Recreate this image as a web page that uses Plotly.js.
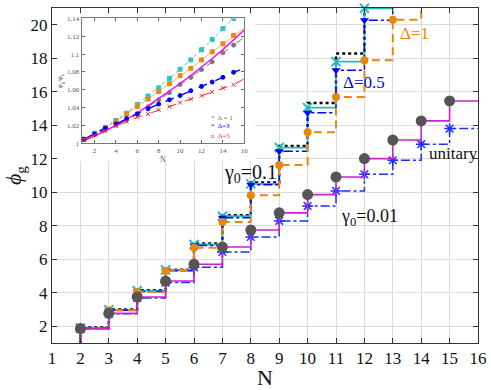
<!DOCTYPE html>
<html>
<head>
<meta charset="utf-8">
<script src="https://cdn.plot.ly/plotly-3.0.1.min.js"></script>
<style>
  html, body { margin: 0; padding: 0; background: #fff; }
  #chart { width: 491px; height: 390px; }
</style>
</head>
<body>
<div id="chart"></div>
<script>
// ---- main plot data (phi_g vs N) ----
// the N=1 start lies below the axis (only the rise at N=2 shows);
// last value of each upper curve lies above the axis range
const nUpper = [1, 2, 3, 4, 5, 6, 7, 8, 9, 10, 11, 12, 13, 14];
const blackDot = [0.5, 1.92, 3.00, 4.15, 5.38, 6.94, 8.63, 10.58, 12.76, 15.33, 18.28, 22.5];
const cyanX = [0.5, 1.90, 2.98, 4.12, 5.36, 6.88, 8.57, 10.50, 12.67, 15.05, 17.80, 20.98, 24.0];
const blueTri = [0.5, 1.88, 2.95, 4.08, 5.32, 6.82, 8.48, 10.45, 12.45, 14.75, 17.28, 20.27, 23.5];
const orangeCirc = [0.5, 1.85, 2.94, 4.05, 5.30, 6.68, 8.22, 9.82, 11.63, 13.58, 15.68, 17.88, 20.30, 23.0];

// lower group, gamma0 = 0.01
const nLower = [1, 2, 3, 4, 5, 6, 7, 8, 9, 10, 11, 12, 13, 14, 15, 16];
const unitaryGray = [0.5, 1.86, 2.77, 3.75, 4.70, 5.70, 6.73, 7.75, 8.77, 9.86, 10.91, 12.01, 13.12, 14.26, 15.45, 15.45];
const blueStar = [0.5, 1.85, 2.74, 3.69, 4.61, 5.52, 6.44, 7.33, 8.29, 9.18, 10.08, 11.07, 11.91, 12.87, 13.80, 13.80];

// ---- inset data (phi_g / phi_u vs N) ----
const insetN = [1, 2, 3, 4, 5, 6, 7, 8, 9, 10, 11, 12, 13, 14, 15, 16];
const insCyan = [1.0045, 1.0113, 1.0180, 1.0255, 1.0338, 1.0435, 1.0530, 1.0623, 1.0728, 1.0830, 1.0935, 1.1048, 1.1164, 1.1285, 1.1400, 1.1520];
const insOrange = [1.0045, 1.0110, 1.0170, 1.0248, 1.0327, 1.0412, 1.0496, 1.0580, 1.0668, 1.0758, 1.0840, 1.0935, 1.1025, 1.1115, 1.1210, 1.1290];
const insGray = [1.0045, 1.0100, 1.0150, 1.0205, 1.0262, 1.0330, 1.0409, 1.0488, 1.0567, 1.0660, 1.0739, 1.0826, 1.0913, 1.1014, 1.1100, 1.1190];
const insMagenta = [1.003, 1.008, 1.014, 1.020, 1.027, 1.034, 1.042, 1.050, 1.058, 1.067, 1.076, 1.085, 1.095, 1.105, 1.116, 1.127];
const insBlue = [1.0045, 1.0105, 1.0169, 1.0217, 1.0277, 1.0330, 1.0387, 1.0440, 1.0488, 1.0536, 1.0590, 1.0638, 1.0687, 1.0740, 1.0796, 1.0845];
const insRed = [1.0045, 1.0094, 1.0139, 1.0195, 1.0243, 1.0293, 1.0327, 1.0375, 1.0412, 1.0457, 1.0496, 1.0533, 1.0575, 1.0620, 1.0657, 1.0724];

const SERIF = "'Liberation Serif', 'Times New Roman', serif";

// marker sizes: hide the start point (and optionally the end point)
function sizes(arr, s, hideLast) {
    return arr.map((v, i) => (i === 0 || (hideLast && i === arr.length - 1)) ? 0 : s);
}

function stepTrace(xs, y, color, dash, width) {
    return {
        x: xs.slice(0, y.length),
        y: y,
        type: 'scatter',
        mode: 'lines',
        line: { color: color, dash: dash, width: width, shape: 'hv' },
        cliponaxis: false,
        hoverinfo: 'skip'
    };
}

// array sizes make plotly treat it as a bubble chart, so set opacity / outline explicitly
function withMarkers(t, marker, s, hideLast) {
    t.mode = 'lines+markers';
    t.marker = Object.assign({ opacity: 1, line: { width: 0 } }, marker, { size: sizes(t.y, s, hideLast) });
    return t;
}

const traces = [
    stepTrace(nUpper, blackDot, '#000000', 'dot', 2.5),
    withMarkers(stepTrace(nUpper, cyanX, '#22bcbc', 'solid', 1.8),
        { symbol: 'x-thin-open', color: '#22bcbc', line: { color: '#22bcbc', width: 2 } }, 9),
    withMarkers(stepTrace(nUpper, blueTri, '#0000ff', 'dashdot', 1.5),
        { symbol: 'triangle-down', color: '#0000ff' }, 8),
    withMarkers(stepTrace(nUpper, orangeCirc, '#e8870e', '8px,5px', 2),
        { symbol: 'circle', color: '#e8870e' }, 8),
    withMarkers(stepTrace(nLower, blueStar, '#1f2dff', 'dashdot', 1.5),
        { symbol: 'asterisk-open', color: '#1f2dff', line: { color: '#1f2dff', width: 1.5 } }, 9, true),
    withMarkers(stepTrace(nLower, unitaryGray, '#cc22cc', 'solid', 1.6),
        { symbol: 'circle', color: '#555555' }, 11, true),
    // empty subplot: white box behind the inset
    { x: [], y: [], xaxis: 'x2', yaxis: 'y2', type: 'scatter', mode: 'markers', hoverinfo: 'skip' }
];

function insetTrace(y, color, dash, width, symbol, msize) {
    const t = {
        x: insetN, y: y, xaxis: 'x3', yaxis: 'y3', type: 'scatter',
        mode: 'lines',
        line: { color: color, dash: dash, width: width },
        hoverinfo: 'skip'
    };
    if (symbol) {
        t.mode = 'lines+markers';
        t.marker = {
            symbol: symbol, color: color, opacity: 1,
            size: insetN.map(n => n < 16 ? msize : 0),
            line: { color: color, width: 1 }
        };
    }
    return t;
}

traces.push(
    insetTrace(insCyan, '#2cc4c4', 'dot', 1, 'square', 4),
    insetTrace(insOrange, '#e8870e', 'solid', 0.6, 'square', 4),
    insetTrace(insGray, '#7a7a7a', 'dash', 1, 'circle', 4),
    insetTrace(insMagenta, '#ff00ff', 'solid', 1.4, null, 0),
    insetTrace(insBlue, '#0000ff', 'dash', 1.4, 'circle', 4),
    insetTrace(insRed, '#ff2a2a', 'dash', 1, 'x-thin-open', 4)
);

const mainAxis = {
    ticks: 'inside', ticklen: 5, tickcolor: '#333', mirror: 'allticks',
    showline: true, linecolor: '#333', linewidth: 1,
    showgrid: true, gridcolor: '#dcdcdc', gridwidth: 1, zeroline: false,
    tickfont: { family: SERIF, size: 17, color: '#111' }
};

const insetAxis = {
    ticks: 'inside', ticklen: 3, tickcolor: '#666', mirror: 'allticks',
    showline: true, linecolor: '#777', linewidth: 1,
    showgrid: false, zeroline: false,
    tickfont: { family: SERIF, size: 7, color: '#555' }
};

const layout = {
    width: 491, height: 390,
    margin: { l: 52, r: 13, t: 8, b: 47 },
    paper_bgcolor: '#ffffff', plot_bgcolor: '#ffffff',
    font: { family: SERIF, color: '#111' },
    showlegend: false,
    xaxis: Object.assign({}, mainAxis, {
        range: [1, 16], tick0: 1, dtick: 1,
        title: { text: 'N', font: { family: SERIF, size: 22 }, standoff: 4 }
    }),
    yaxis: Object.assign({}, mainAxis, {
        range: [1, 21], tick0: 0, dtick: 2,
        title: { text: '<i>ϕ</i><sub>g</sub>', font: { family: SERIF, size: 22 }, standoff: 2 }
    }),
    xaxis2: { domain: [0.013, 0.477], anchor: 'y2', range: [0, 1], visible: false },
    yaxis2: { domain: [0.543, 0.982], anchor: 'x2', range: [0, 1], visible: false },
    xaxis3: Object.assign({}, insetAxis, {
        domain: [0.0697, 0.4514], anchor: 'y3', range: [0.8, 16], tick0: 0, dtick: 2,
        title: { text: 'N', font: { family: SERIF, size: 8, color: '#555' }, standoff: 1 }
    }),
    yaxis3: Object.assign({}, insetAxis, {
        domain: [0.596, 0.969], anchor: 'x3', range: [1, 1.14], tick0: 1, dtick: 0.02,
        title: { text: '<i>ϕ</i><sub>g</sub>/<i>ϕ</i><sub>u</sub>', font: { family: SERIF, size: 7, color: '#555' }, standoff: 3 }
    }),
    annotations: [
        { x: 13.75, y: 19.5, text: 'Δ=1', showarrow: false, font: { family: SERIF, size: 17, color: '#e8870e' } },
        { x: 12.0, y: 16.57, text: 'Δ=0.5', showarrow: false, font: { family: SERIF, size: 17, color: '#0000ff' } },
        { x: 7.0, y: 11.1, xanchor: 'left', text: 'γ<sub>0</sub>=0.1', showarrow: false, font: { family: SERIF, size: 20, color: '#111' } },
        { x: 11.1, y: 8.5, xanchor: 'left', text: 'γ<sub>0</sub>=0.01', showarrow: false, font: { family: SERIF, size: 18, color: '#111' } },
        { x: 14.2, y: 12.33, xanchor: 'left', text: 'unitary', showarrow: false, font: { family: SERIF, size: 17, color: '#111' } },
        // inset legend
        { xref: 'x3', yref: 'y3', x: 12.7, y: 1.0288, xanchor: 'left', showarrow: false,
          text: '<span style="color:#7a7a7a">*</span>  Δ = 1', font: { family: SERIF, size: 7, color: '#666' } },
        { xref: 'x3', yref: 'y3', x: 12.7, y: 1.0195, xanchor: 'left', showarrow: false,
          text: '*  Δ=3', font: { family: SERIF, size: 7, color: '#0000ff' } },
        { xref: 'x3', yref: 'y3', x: 12.7, y: 1.0086, xanchor: 'left', showarrow: false,
          text: 'x  Δ=5', font: { family: SERIF, size: 7, color: '#ff2a2a' } }
    ]
};

Plotly.newPlot('chart', traces, layout, { displayModeBar: false, staticPlot: true });
</script>
</body>
</html>
